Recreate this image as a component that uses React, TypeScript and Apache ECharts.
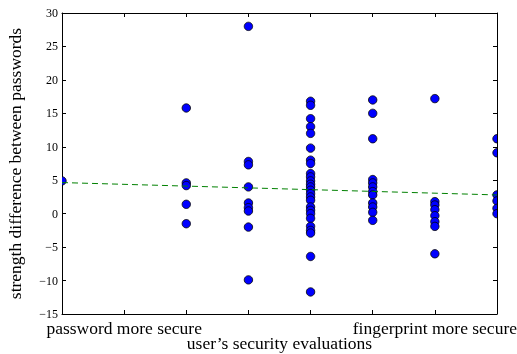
import React, { useEffect, useRef } from "react";
import * as echarts from "echarts";

const evaluations = [0, 2, 3, 4, 5, 6, 7];
const xTickLabels = ["", "password more secure", "", "", "", "", "fingerprint more secure", ""];
const yTicks = [-15, -10, -5, 0, 5, 10, 15, 20, 25, 30];

const diffsAt0 = [4.9];
const diffsAt2 = [15.8, 4.6, 4.2, 1.4, -1.5];
const diffsAt3 = [28.0, 7.8, 7.3, 4.0, 1.6, 0.9, 0.4, -2.0, -9.9];
const diffsAt4 = [16.8, 16.2, 14.2, 13.0, 12.0, 9.8, 8.0, 7.5, 6.0, 5.5, 4.9, 4.4, 4.0, 3.5, 3.0, 2.5, 2.0, 1.0, 0.5, 0.0, -0.7, -1.9, -2.5, -2.9, -6.4, -11.7];
const diffsAt5 = [17.0, 15.0, 11.2, 5.1, 4.6, 4.0, 3.3, 2.8, 1.6, 1.0, 0.2, -1.0];
const diffsAt6 = [17.2, 1.8, 1.3, 0.6, -0.3, -1.2, -1.9, -6.0];
const diffsAt7 = [11.2, 9.1, 2.8, 1.9, 0.8, 0.0];

const trendX = [0, 7];
const trendY = [4.65, 2.8];

const FONT = "Liberation Serif";

export default function App() {
  const ref = useRef<HTMLDivElement>(null);
  useEffect(() => {
    if (!ref.current) return;
    const chart = echarts.init(ref.current, null, { renderer: "svg" });
    const groups = [diffsAt0, diffsAt2, diffsAt3, diffsAt4, diffsAt5, diffsAt6, diffsAt7];
    const points: number[][] = [];
    groups.forEach((g, i) => g.forEach((v) => points.push([evaluations[i], v])));
    const fmtY = (v: number) => String(v).replace("-", "\u2212");
    const axisCommon = {
      axisLine: { show: true, onZero: false, lineStyle: { color: "#000", width: 1 } },
      splitLine: { show: false },
    };
    chart.setOption({
      animation: false,
      grid: { left: 62, right: 20, top: 13, bottom: 40, outerBoundsMode: "none", containLabel: false },
      xAxis: [
        {
          ...axisCommon,
          type: "value",
          min: 0,
          max: 7,
          interval: 1,
          position: "bottom",
          axisTick: { inside: true, length: 4, lineStyle: { color: "#000" } },
          axisLabel: {
            margin: 7,
            lineHeight: 13,
            fontFamily: FONT,
            fontSize: 17.5,
            color: "#000",
            formatter: (v: number) => xTickLabels[v] ?? "",
          },
          name: "user\u2019s security evaluations",
          nameLocation: "middle",
          nameGap: 20,
          nameMoveOverlap: false,
          nameTextStyle: { fontFamily: FONT, fontSize: 17.5, color: "#000" },
        },
        {
          ...axisCommon,
          type: "value",
          min: 0,
          max: 7,
          interval: 1,
          position: "top",
          axisTick: { inside: true, length: 4, lineStyle: { color: "#000" } },
          axisLabel: { show: false },
        },
      ],
      yAxis: [
        {
          ...axisCommon,
          type: "value",
          min: yTicks[0],
          max: yTicks[yTicks.length - 1],
          interval: 5,
          position: "left",
          axisTick: { inside: true, length: 4, lineStyle: { color: "#000" } },
          axisLabel: { margin: 4, lineHeight: 10, fontFamily: FONT, fontSize: 12, color: "#000", formatter: fmtY },
          name: "strength difference between passwords",
          nameLocation: "middle",
          nameGap: 38,
          nameMoveOverlap: false,
          nameTextStyle: { fontFamily: FONT, fontSize: 17.5, color: "#000" },
        },
        {
          ...axisCommon,
          type: "value",
          min: yTicks[0],
          max: yTicks[yTicks.length - 1],
          interval: 5,
          position: "right",
          axisTick: { inside: true, length: 4, lineStyle: { color: "#000" } },
          axisLabel: { show: false },
        },
      ],
      series: [
        {
          type: "custom",
          clip: true,
          z: 3,
          data: points,
          renderItem: (params: any, api: any) => {
            const c = api.coord([api.value(0), api.value(1)]);
            return {
              type: "circle",
              shape: { cx: c[0], cy: c[1], r: 4.2 },
              style: { fill: "#0000ff", stroke: "#000", lineWidth: 0.8 },
            };
          },
        },
        {
          type: "line",
          clip: true,
          z: 4,
          symbol: "none",
          data: trendX.map((x, i) => [x, trendY[i]]),
          lineStyle: { color: "#008000", width: 1, type: [6, 4] },
        },
      ],
    });
    return () => chart.dispose();
  }, []);
  return <div ref={ref} style={{ position: "fixed", left: 0, top: 0, width: 517, height: 354 }} />;
}
